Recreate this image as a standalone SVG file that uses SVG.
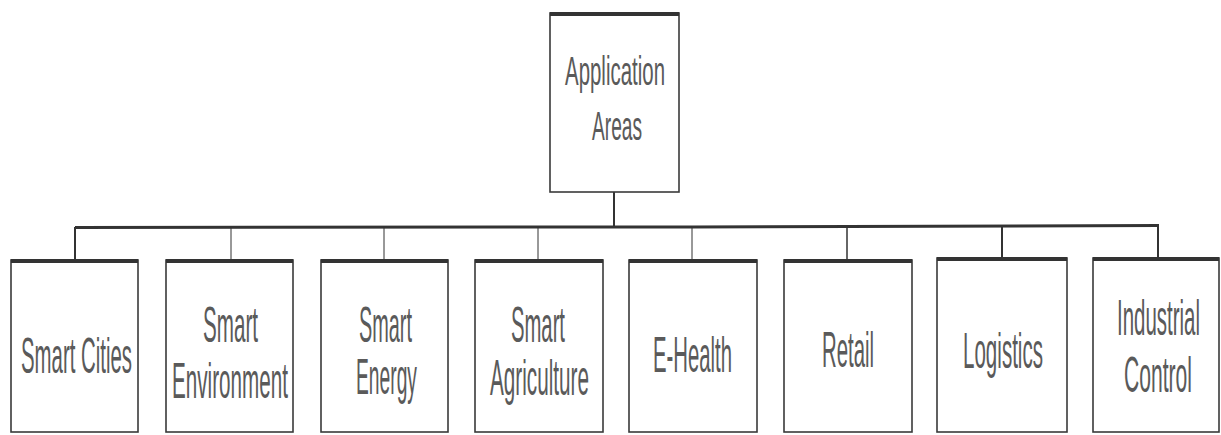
<svg xmlns="http://www.w3.org/2000/svg" width="1221" height="435" viewBox="0 0 1221 435">
  <style>
    .box { fill: #ffffff; stroke: #3a3a3a; stroke-width: 1.6; }
    .cap { stroke: #333333; stroke-width: 4; }
    .lbl { font-family: "Liberation Sans", Arial, sans-serif; font-size: 50px; fill: #5a5a5a; }
    .top { font-size: 40px; }
    .wire { stroke: #333333; fill: none; }
  </style>
  <rect width="1221" height="435" fill="#ffffff"/>

  <!-- connectors: root stem, bus and drops -->
  <g id="connectors">
    <line class="wire" x1="614" y1="192" x2="614" y2="227" stroke-width="2"/>
    <line class="wire" x1="75" y1="227.5" x2="614" y2="227" stroke-width="3"/>
    <line class="wire" x1="614" y1="227" x2="692" y2="227" stroke-width="3" stroke="#9a9a9a"/>
    <line class="wire" x1="692" y1="227" x2="1159" y2="225.5" stroke-width="3"/>
    <line class="wire" x1="75" y1="227" x2="75" y2="260" stroke-width="2"/>
    <line class="wire" x1="231" y1="227" x2="231" y2="260" stroke-width="1"/>
    <line class="wire" x1="384" y1="227" x2="384" y2="260" stroke-width="1"/>
    <line class="wire" x1="538" y1="227" x2="538" y2="260" stroke-width="1"/>
    <line class="wire" x1="692" y1="227" x2="692" y2="260" stroke-width="1"/>
    <line class="wire" x1="847" y1="227" x2="847" y2="260" stroke-width="1.5"/>
    <line class="wire" x1="1002" y1="226" x2="1002" y2="258" stroke-width="2"/>
    <line class="wire" x1="1158" y1="225" x2="1158" y2="258" stroke-width="2"/>
  </g>

  <g id="application-areas">
    <rect class="box" x="550" y="13" width="129" height="179"/>
    <line class="cap" x1="550" y1="14" x2="679" y2="14"/>
    <text class="lbl top" x="565" y="85" textLength="100" lengthAdjust="spacingAndGlyphs">Application</text>
    <text class="lbl top" x="592" y="140" textLength="50" lengthAdjust="spacingAndGlyphs">Areas</text>
  </g>

  <g id="smart-cities">
    <rect class="box" x="11" y="260" width="127" height="172"/>
    <line class="cap" x1="11" y1="261" x2="138" y2="261"/>
    <text class="lbl" x="21" y="373" textLength="111" lengthAdjust="spacingAndGlyphs">Smart Cities</text>
  </g>

  <g id="smart-environment">
    <rect class="box" x="166" y="260" width="127" height="172"/>
    <line class="cap" x1="166" y1="261" x2="293" y2="261"/>
    <text class="lbl" x="203" y="342" textLength="55" lengthAdjust="spacingAndGlyphs">Smart</text>
    <text class="lbl" x="172" y="398" textLength="116" lengthAdjust="spacingAndGlyphs">Environment</text>
  </g>

  <g id="smart-energy">
    <rect class="box" x="321" y="260" width="127" height="172"/>
    <line class="cap" x1="321" y1="261" x2="448" y2="261"/>
    <text class="lbl" x="359" y="342" textLength="53" lengthAdjust="spacingAndGlyphs">Smart</text>
    <text class="lbl" x="356" y="394" textLength="61" lengthAdjust="spacingAndGlyphs">Energy</text>
  </g>

  <g id="smart-agriculture">
    <rect class="box" x="475" y="260" width="128" height="172"/>
    <line class="cap" x1="475" y1="261" x2="603" y2="261"/>
    <text class="lbl" x="511" y="342" textLength="54" lengthAdjust="spacingAndGlyphs">Smart</text>
    <text class="lbl" x="490" y="395" textLength="99" lengthAdjust="spacingAndGlyphs">Agriculture</text>
  </g>

  <g id="e-health">
    <rect class="box" x="629" y="260" width="128" height="172"/>
    <line class="cap" x1="629" y1="261" x2="757" y2="261"/>
    <text class="lbl" x="653" y="372" textLength="79" lengthAdjust="spacingAndGlyphs">E-Health</text>
  </g>

  <g id="retail">
    <rect class="box" x="784" y="260" width="128" height="172"/>
    <line class="cap" x1="784" y1="261" x2="912" y2="261"/>
    <text class="lbl" x="822" y="367" textLength="52" lengthAdjust="spacingAndGlyphs">Retail</text>
  </g>

  <g id="logistics">
    <rect class="box" x="937" y="258" width="130" height="174"/>
    <line class="cap" x1="937" y1="259" x2="1067" y2="259"/>
    <text class="lbl" x="963" y="368" textLength="80" lengthAdjust="spacingAndGlyphs">Logistics</text>
  </g>

  <g id="industrial-control">
    <rect class="box" x="1093" y="258" width="126" height="174"/>
    <line class="cap" x1="1093" y1="259" x2="1219" y2="259"/>
    <text class="lbl" x="1117" y="335" textLength="83" lengthAdjust="spacingAndGlyphs">Industrial</text>
    <text class="lbl" x="1124" y="392" textLength="68" lengthAdjust="spacingAndGlyphs">Control</text>
  </g>
</svg>
